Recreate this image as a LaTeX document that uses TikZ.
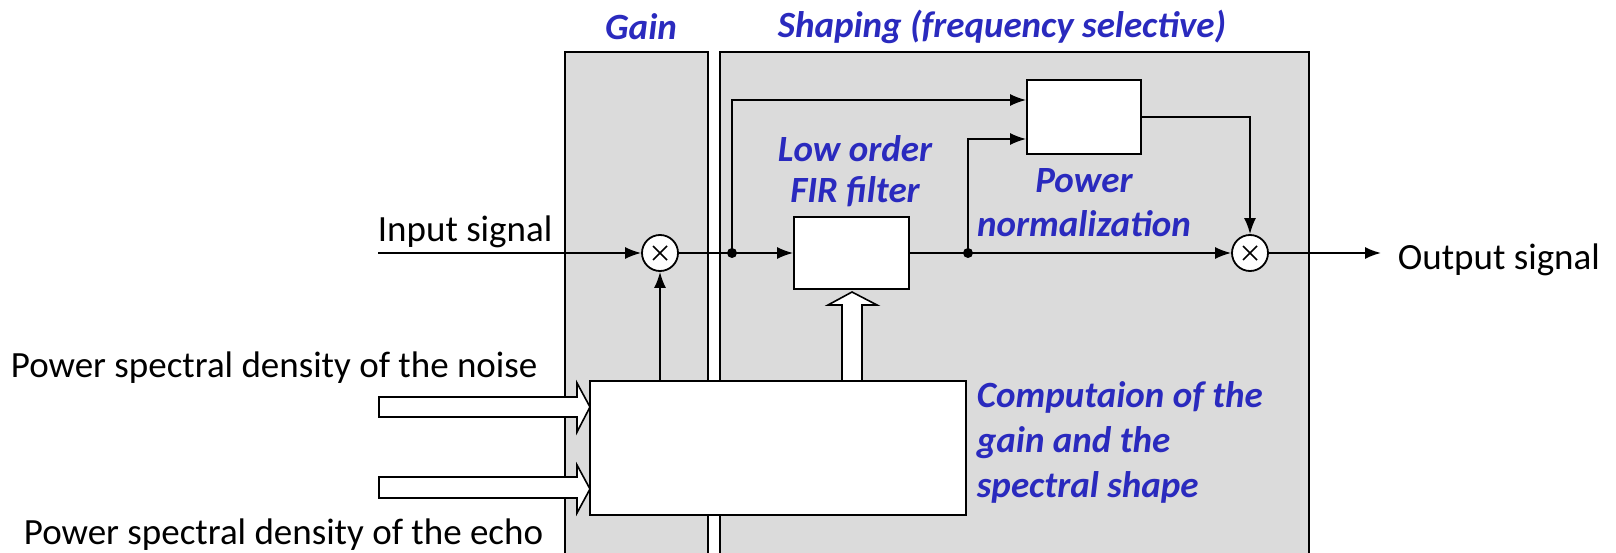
\documentclass[tikz,border=0pt]{standalone}
\usepackage{fontspec}
\setmainfont{Carlito}
\usetikzlibrary{arrows.meta,calc}
\definecolor{lblue}{RGB}{42,42,190}
\definecolor{panelgray}{RGB}{219,219,219}
\begin{document}
\begin{tikzpicture}[x=1pt,y=-1pt,line width=1.8pt,
  panel/.style={draw,fill=panelgray},
  blockbox/.style={draw,fill=white,inner sep=0pt,minimum width=#1},
  mult/.style={draw,fill=white,circle,inner sep=0pt,minimum size=36pt},
  sig/.style={-{Latex[length=16pt,width=12pt]}},
  junc/.style={circle,fill=black,inner sep=0pt,minimum size=10pt},
  hollow/.style={draw,fill=white,line width=1.6pt,line join=miter},
  plain/.style={font=\fontsize{37}{44}\selectfont,inner sep=0pt},
  blue/.style={font=\fontsize{37}{45}\selectfont\bfseries\itshape,text=lblue,inner sep=0pt}]
\useasboundingbox (0,0) rectangle (1616,553);
% panels
\path[panel] (565,52) rectangle (708,570);
\path[panel] (720,52) rectangle (1309,570);
\node[blue] (tgain) at (641,27) {Gain};
\node[blue] (tshape) at (1002,27) {Shaping (frequency selective)};
% blocks
\node[blockbox=115pt,minimum height=72pt] (fir) at (851.5,253) {};
\node[blockbox=114pt,minimum height=74pt] (norm) at (1084,117) {};
\node[blockbox=376pt,minimum height=134pt] (comp) at (778,448) {};
\node[mult] (m1) at (660,253) {};
\node[mult] (m2) at (1250,253) {};
\foreach \m in {m1,m2}{
  \draw[line width=1.5pt] ($(\m)+(-7,-7)$) -- ($(\m)+(7,7)$) ($(\m)+(-7,7)$) -- ($(\m)+(7,-7)$);}
% hollow arrows
\draw[hollow] (379,397) -- (577,397) -- (577,383) -- (590,407) -- (577,432) -- (577,417) -- (379,417) -- cycle;
\draw[hollow] (379,477) -- (577,477) -- (577,465) -- (590,489) -- (577,513) -- (577,498) -- (379,498) -- cycle;
\draw[hollow] (842,381) -- (842,305) -- (828,305) -- (852,292) -- (877,305) -- (862,305) -- (862,381) -- cycle;
% junctions
\node[junc] (d1) at (732,253) {};
\node[junc] (d2) at (968,253) {};
\coordinate (in) at (378,253);
\coordinate (out) at (1381,253);
\coordinate (nin1) at ($(norm.west)+(0,-17)$);
\coordinate (nin2) at ($(norm.west)+(0,22)$);
% connectors
\draw[sig] (in) -- (m1.west);
\draw[sig] (m1.east) -- (fir.west);
\draw[sig] (comp.north -| m1) -- (m1.south);
\draw[sig] (d1.center) |- (nin1);
\draw[sig] (fir.east) -- (m2.west);
\draw[sig] (d2.center) |- (nin2);
\draw[sig] (norm.east) -| (m2.north);
\draw[sig] (m2.east) -- (out);
% texts
\node[plain,anchor=west] (tin) at (377,232) {Input signal};
\node[plain,anchor=west] (tnoise) at (10,368) {Power spectral density of the noise};
\node[plain,anchor=west] (techo) at (23,535) {Power spectral density of the echo};
\node[plain,anchor=west] (tout) at (1397,260) {Output signal};
\node[blue,align=center,font=\fontsize{37}{41}\selectfont\bfseries\itshape] (tfir) at (855,171) {Low order\\FIR filter};
\node[blue,align=center,font=\fontsize{37}{44}\selectfont\bfseries\itshape] (tnorm) at (1084,203) {Power\\normalization};
\node[blue,align=left,anchor=west] (tcomp) at (976,442) {Computaion of the\\gain and the\\spectral shape};
\end{tikzpicture}
\end{document}
